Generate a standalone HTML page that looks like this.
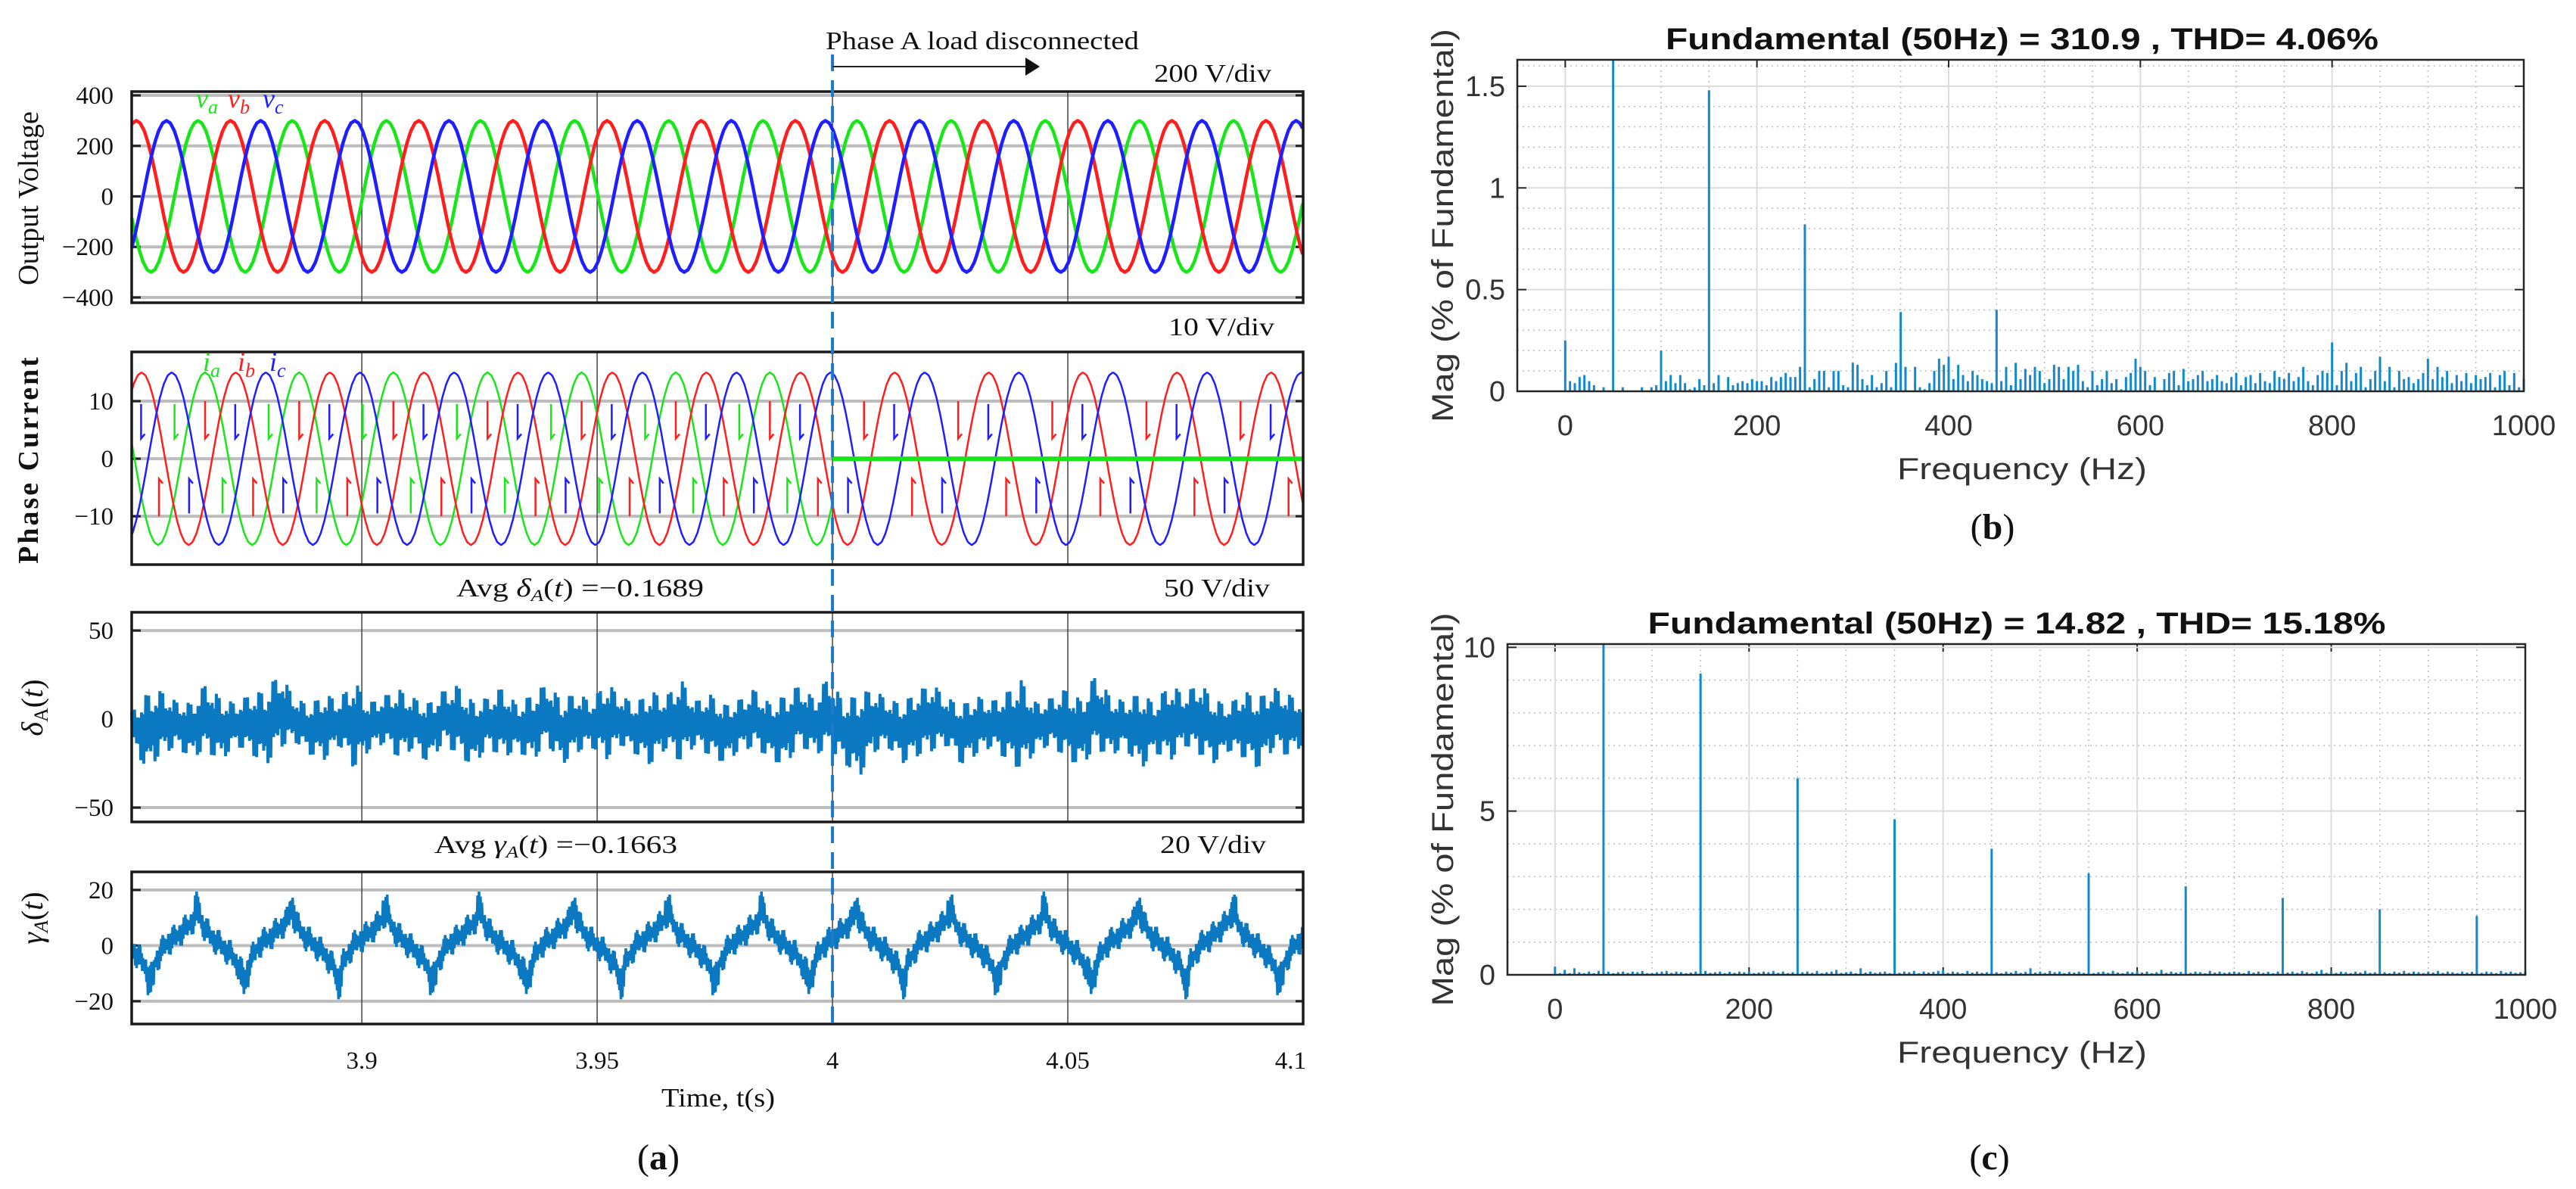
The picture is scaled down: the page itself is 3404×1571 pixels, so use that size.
<!DOCTYPE html>
<html><head><meta charset="utf-8"><style>
html,body{margin:0;padding:0;background:#fff;}
svg{display:block;}
.serif{font-family:"Liberation Serif",serif;}
.sans{font-family:"Liberation Sans",sans-serif;}
</style></head><body>
<svg id="fig" xmlns="http://www.w3.org/2000/svg" width="3404" height="1571" viewBox="0 0 3404 1571">
<rect x="0" y="0" width="3404" height="1571" fill="#fff"/>
<g id="left"></g>
<g id="specb"></g>
<g id="specc"></g>
</svg>
<script>
const timeTicks = [3.9, 3.95, 4, 4.05, 4.1];
const timeTickLabels = ["3.9", "3.95", "4", "4.05", "4.1"];
const disconnectTime = 4.0;
const voltTicks = [400, 200, 0, -200, -400];
const voltTickLabels = ["400", "200", "0", "\u2212200", "\u2212400"];
const currTicks = [10, 0, -10];
const currTickLabels = ["10", "0", "\u221210"];
const deltaTicks = [50, 0, -50];
const deltaTickLabels = ["50", "0", "\u221250"];
const gammaTicks = [20, 0, -20];
const gammaTickLabels = ["20", "0", "\u221220"];
const cosCycle = [1,0.966,0.866,0.707,0.5,0.259,0,-0.259,-0.5,-0.707,-0.866,-0.966,-1,-0.966,-0.866,-0.707,-0.5,-0.259,0,0.259,0.5,0.707,0.866,0.966,1];
const gridFreq = [50];
const voltPhaseNames = ["va", "vb", "vc"];
const voltAmp = [300, 300, 300];
const voltPeakTime = [3.8652, 3.8521, 3.8585];
const currAmp = [15, 15, 15];
const currPeakTime = [3.8667, 3.8532, 3.8596];
const currSpikeTop = [9.5, 10, 9.5];
const currHook = [3.5, 3.5, 3.5];
const deltaHi = [4,14,16,10,9,20,12,9,14,16,26,12,8,14,11,22,9,13,17,12,9,16,19,10,12,18,8,14,20,11,15,10,21,13,9,16,12,23,10,14,8,11,17,9,13,19,12,24,10,14,17,11,9,16,20,12,8,13,10,15,22,9,12,17,11,25,13,10,15,9,20,14,21,11,8,16,12,18,14,10];
const deltaLo = [-14,-29,-20,-16,-22,-18,-24,-15,-19,-27,-16,-13,-20,-23,-15,-28,-18,-14,-22,-17,-25,-14,-20,-27,-16,-22,-18,-24,-14,-26,-19,-16,-23,-15,-20,-26,-17,-24,-15,-21,-25,-18,-16,-22,-27,-15,-20,-18,-24,-34,-19,-16,-25,-21,-18,-15,-26,-20,-16,-23,-29,-18,-15,-22,-27,-17,-21,-16,-29,-19,-24,-15,-20,-25,-18,-22,-28,-17,-21,-15];
const deltaJitter = [1,0.55,0.85,0.4,0.95,0.6,0.3,0.8,0.5,1,0.45,0.7,0.35,0.9,0.6,0.75,0.4,0.65,0.5,0.85];
const gammaCycle = [-12,-6,-3,0,1.5,2.5,4,5.5,7,9,12,8,5,3,1.5,0,-1.5,-3,-5.5,-8,-12];
const gammaTroughTime = 3.8551;
const gammaJitter = [2,4,1.5,5,3,4,1.5,5,2.5,3.5,4.5,1.5,5,2.5,3,4.5];

const freqTicks = [0, 200, 400, 600, 800, 1000];
const freqTickLabels = ["0", "200", "400", "600", "800", "1000"];
const specBTicks = [0, 0.5, 1, 1.5];
const specBTickLabels = ["0", "0.5", "1", "1.5"];
const specCTicks = [0, 5, 10];
const specCTickLabels = ["0", "5", "10"];
const binStep = 5;
const specB = [
0.25,0.05,0.04,0.07,0.08,0.05,0.03,0,0.02,0,
1.63,0,0.02,0,0,0,0.02,0,0.02,0.03,
0.2,0.05,0.08,0.04,0.08,0.04,0.01,0.02,0.06,0.03,
1.48,0.04,0.08,0,0.07,0.03,0.04,0.05,0.04,0.06,
0.05,0.05,0.03,0.07,0.05,0.07,0.09,0.07,0.07,0.12,
0.82,0.02,0.06,0.1,0.1,0.02,0.1,0.1,0.03,0.02,
0.14,0.13,0.06,0.03,0.08,0.02,0.04,0.1,0.02,0.14,
0.39,0.12,0,0.12,0.02,0.01,0.04,0.1,0.16,0.13,
0.17,0.06,0.13,0.08,0.05,0.1,0.08,0.06,0.05,0.04,
0.4,0.05,0.12,0.03,0.14,0.06,0.11,0.08,0.12,0.1,
0.04,0.06,0.13,0.12,0.06,0.12,0.1,0.13,0.05,0.02,
0.1,0.03,0.06,0.1,0.04,0.06,0.01,0.07,0.09,0.16,
0.12,0.1,0.03,0.07,0,0.06,0.09,0.1,0.03,0.11,
0.05,0.06,0.08,0.1,0.05,0.06,0.08,0.05,0.04,0.07,
0.09,0.03,0.07,0.08,0.04,0.09,0.05,0.04,0.1,0.07,
0.06,0.09,0.05,0.07,0.12,0.05,0.03,0.08,0.1,0.09,
0.24,0.03,0.1,0.14,0.05,0.09,0.12,0.02,0.06,0.1,
0.17,0.05,0.12,0.02,0.1,0.06,0.07,0.04,0.06,0.09,
0.16,0.06,0.12,0.07,0.1,0.04,0.08,0.05,0.09,0.04,
0.08,0.06,0.07,0.09,0.02,0.08,0.1,0.03,0.09,0.02,
0.06];
const specC = [
0.25,0.05,0.15,0.05,0.2,0.08,0.05,0.1,0.05,0.12,
10.1,0.1,0.05,0.08,0.1,0.06,0.1,0.08,0.12,0.05,
0.05,0.08,0.1,0.12,0.06,0.1,0.08,0.05,0.07,0.1,
9.2,0.12,0.06,0.08,0.1,0.05,0.09,0.06,0.1,0.08,
0.1,0.05,0.07,0.1,0.08,0.12,0.06,0.1,0.05,0.08,
6.0,0.08,0.1,0.06,0.12,0.05,0.08,0.1,0.15,0.06,
0.08,0.1,0.05,0.2,0.07,0.1,0.06,0.08,0.1,0.05,
4.75,0.06,0.1,0.08,0.12,0.05,0.1,0.07,0.09,0.12,
0.15,0.06,0.1,0.08,0.05,0.12,0.07,0.1,0.06,0.08,
3.85,0.08,0.05,0.1,0.07,0.12,0.06,0.09,0.2,0.07,
0.1,0.06,0.12,0.08,0.1,0.05,0.09,0.07,0.1,0.06,
3.1,0.05,0.08,0.1,0.06,0.12,0.07,0.05,0.1,0.08,
0.12,0.07,0.1,0.05,0.08,0.15,0.06,0.1,0.07,0.09,
2.7,0.06,0.1,0.08,0.05,0.12,0.07,0.1,0.06,0.08,
0.1,0.08,0.05,0.12,0.07,0.1,0.06,0.09,0.05,0.1,
2.35,0.07,0.1,0.06,0.12,0.08,0.05,0.1,0.15,0.06,
0.12,0.06,0.1,0.08,0.05,0.1,0.07,0.12,0.06,0.08,
2.0,0.08,0.05,0.1,0.07,0.12,0.06,0.1,0.08,0.05,
0.1,0.07,0.12,0.06,0.1,0.08,0.05,0.1,0.07,0.09,
1.8,0.06,0.1,0.08,0.05,0.12,0.07,0.1,0.06,0.08,
0.1];
const titleB = "Fundamental (50Hz) = 310.9 , THD= 4.06%";
const titleC = "Fundamental (50Hz) = 14.82 , THD= 15.18%";

const NS = "http://www.w3.org/2000/svg";
function mk(parent, tag, attrs, text) {
  const e = document.createElementNS(NS, tag);
  for (const k in attrs) e.setAttribute(k, attrs[k]);
  if (text !== undefined) e.textContent = text;
  parent.appendChild(e);
  return e;
}
const L = document.getElementById("left");
const X0 = 174, X1 = 1722, T0 = 3.8511, T1 = 4.1;
function xT(t) { return X0 + (t - T0) / (T1 - T0) * (X1 - X0); }
function yMap(p) { return v => p.top + (p.ymax - v) / (p.ymax - p.ymin) * (p.bottom - p.top); }
function cosAt(deg) {
  let d = ((deg % 360) + 360) % 360;
  const i = Math.floor(d / 15), f = (d - i * 15) / 15;
  return cosCycle[i] * (1 - f) + cosCycle[i + 1] * f;
}
const panels = {
  v: {top:121, bottom:400, ymin:-421, ymax:415, ticks:voltTicks, labels:voltTickLabels, name:"voltage"},
  i: {top:465, bottom:746, ymin:-18.4, ymax:18.55, ticks:currTicks, labels:currTickLabels, name:"current"},
  d: {top:809, bottom:1086, ymin:-58.1, ymax:60.3, ticks:deltaTicks, labels:deltaTickLabels, name:"delta"},
  g: {top:1152, bottom:1353, ymin:-28.2, ymax:26.5, ticks:gammaTicks, labels:gammaTickLabels, name:"gamma"}
};
function drawPanelFrame(p) {
  const y = yMap(p);
  for (let k = 0; k < p.ticks.length; k++) {
    const gl = mk(L, "line", {x1:X0, x2:X1, y1:y(p.ticks[k]), y2:y(p.ticks[k]), stroke:"#bdbdbd", "stroke-width":4});
    
    
    const tk = mk(L, "line", {x1:X0, x2:X0 + 12, y1:y(p.ticks[k]), y2:y(p.ticks[k]), stroke:"#222", "stroke-width":3});
    
    
    const tk2 = mk(L, "line", {x1:X1 - 10, x2:X1, y1:y(p.ticks[k]), y2:y(p.ticks[k]), stroke:"#222", "stroke-width":3});
    
    
    const lb = mk(L, "text", {x:150, y:y(p.ticks[k]) + 11, "text-anchor":"end", "font-size":33, class:"serif", fill:"#111"}, p.labels[k]);
    
    
  }
  for (let k = 0; k < timeTicks.length - 1; k++) {
    const vg = mk(L, "line", {x1:xT(timeTicks[k]), x2:xT(timeTicks[k]), y1:p.top, y2:p.bottom, stroke:"#444", "stroke-width":1.5});
    
    
  }
}
function drawBox(p) {
  const b = mk(L, "rect", {x:X0, y:p.top, width:X1 - X0, height:p.bottom - p.top, fill:"none", stroke:"#1a1a1a", "stroke-width":3.5});
  
  
}
for (const k in panels) drawPanelFrame(panels[k]);

const vColors = ["#19e619", "#ff1e1e", "#1e1eff"];
(function(){
  const p = panels.v, y = yMap(p);
  for (let ph = 0; ph < 3; ph++) {
    let d = "";
    for (let t = T0; t <= T1 + 1e-9; t += 0.0002) {
      const deg = (t - voltPeakTime[ph]) * gridFreq[0] * 360;
      d += (d ? "L" : "M") + xT(t).toFixed(1) + "," + y(voltAmp[ph] * cosAt(deg)).toFixed(1);
    }
    const path = mk(L, "path", {d:d, fill:"none", stroke:vColors[ph], "stroke-width":4.5, "stroke-linejoin":"round"});
    
    
  }
})();

(function(){
  const p = panels.i, y = yMap(p);
  const names = ["ia", "ib", "ic"];
  for (let ph = 0; ph < 3; ph++) {
    let d = "";
    const tEnd = ph === 0 ? disconnectTime : T1;
    for (let t = T0; t <= tEnd + 1e-9; t += 0.0002) {
      const deg = (t - currPeakTime[ph]) * gridFreq[0] * 360;
      d += (d ? "L" : "M") + xT(t).toFixed(1) + "," + y(currAmp[ph] * cosAt(deg)).toFixed(1);
    }
    const path = mk(L, "path", {d:d, fill:"none", stroke:vColors[ph], "stroke-width":2.5});
    
    
    const period = 1 / gridFreq[0];
    for (let c = -2; c < 16; c++) {
      const base = currPeakTime[ph] + c * period;
      const tUp = base - period * 0.325, tDn = base + period * 0.185;
      [[tUp, 1], [tDn, -1]].forEach(([ts, s]) => {
        if (ts < T0 || ts > tEnd) return;
        const xs = xT(ts);
        const sp = mk(L, "path", {d:"M" + xs + "," + y(s * currSpikeTop[ph]) + "L" + xs + "," + y(s * currHook[ph]) + "l5," + (-s * 6), fill:"none", stroke:vColors[ph], "stroke-width":2.5});
        
        
      });
    }
  }
  const flat = mk(L, "line", {x1:xT(disconnectTime), x2:X1, y1:y(0), y2:y(0), stroke:"#19e619", "stroke-width":6});
  
  
})();

(function(){
  const p = panels.d, y = yMap(p);
  const n = deltaHi.length, span = T1 - T0;
  let d = "", k = 0;
  for (let t = T0; t <= T1 + 1e-9; t += 0.00015, k++) {
    const f = (t - T0) / span * (n - 1), i = Math.min(Math.floor(f), n - 2), r = f - i;
    const hi = deltaHi[i] * (1 - r) + deltaHi[i + 1] * r;
    const lo = deltaLo[i] * (1 - r) + deltaLo[i + 1] * r;
    const mid = (hi + lo) / 2, half = (hi - lo) / 2;
    const v = k % 2 === 0 ? mid + half * deltaJitter[k % deltaJitter.length] : mid - half * deltaJitter[(k + 7) % deltaJitter.length];
    d += (d ? "L" : "M") + xT(t).toFixed(1) + "," + y(v).toFixed(1);
  }
  const path = mk(L, "path", {d:d, fill:"none", stroke:"#0b78c2", "stroke-width":4});
  
  
})();

(function(){
  const p = panels.g, y = yMap(p);
  const period = 1 / gridFreq[0];
  let d = "", k = 0;
  for (let t = T0; t <= T1 + 1e-9; t += 0.00015, k++) {
    let ph = ((t - gammaTroughTime) / period) % 1; if (ph < 0) ph += 1;
    const f = ph * (gammaCycle.length - 1), i = Math.floor(f), r = f - i;
    const c = gammaCycle[i] * (1 - r) + gammaCycle[Math.min(i + 1, gammaCycle.length - 1)] * r;
    const cusp = (ph < 0.04 || ph > 0.96) ? -3 : (ph > 0.47 && ph < 0.53 ? 3 : 0);
    const v = k % 2 === 0 ? c + gammaJitter[k % gammaJitter.length] + Math.max(cusp, 0) : c - gammaJitter[(k + 5) % gammaJitter.length] + Math.min(cusp, 0);
    d += (d ? "L" : "M") + xT(t).toFixed(1) + "," + y(v).toFixed(1);
  }
  const path = mk(L, "path", {d:d, fill:"none", stroke:"#0b78c2", "stroke-width":3.5});
  
  
})();

for (const k in panels) drawBox(panels[k]);

(function(){
  const dl = mk(L, "line", {x1:xT(disconnectTime), x2:xT(disconnectTime), y1:72, y2:1353, stroke:"#1f78c8", "stroke-width":4, "stroke-dasharray":"22,12"});
  
  
  const ar = mk(L, "line", {x1:xT(disconnectTime), x2:1355, y1:88, y2:88, stroke:"#222", "stroke-width":2});
  
  
  const ah = mk(L, "polygon", {points:"1355,76 1374,88 1355,100", fill:"#111"});
  
  
})();

for (let k = 0; k < timeTicks.length; k++) {
  const anchor = k === timeTicks.length - 1 ? "end" : "middle";
  const tx = k === timeTicks.length - 1 ? xT(timeTicks[k]) + 4 : xT(timeTicks[k]);
  const lb = mk(L, "text", {x:tx, y:1412, "text-anchor":anchor, "font-size":33, class:"serif", fill:"#111"}, timeTickLabels[k]);
  
  
}

function drawSpectrum(G, cfg) {
  const xF = f => cfg.x0 + (f - cfg.fmin) / (cfg.fmax - cfg.fmin) * (cfg.x1 - cfg.x0);
  const yV = v => cfg.bottom - v / cfg.ymax * (cfg.bottom - cfg.top);
  for (let f = 0; f <= 1000; f += 50) {
    if (f % 200 === 0) continue;
    const m = mk(G, "line", {x1:xF(f), x2:xF(f), y1:cfg.top, y2:cfg.bottom, stroke:"#bdbdbd", "stroke-width":1.5, "stroke-dasharray":"2,5"});
    
    
  }
  for (let v = cfg.minor; v < cfg.ymax; v += cfg.minor) {
    const m = mk(G, "line", {x1:cfg.x0, x2:cfg.x1, y1:yV(v), y2:yV(v), stroke:"#bdbdbd", "stroke-width":1.5, "stroke-dasharray":"2,5"});
    
    
  }
  for (let k = 0; k < freqTicks.length; k++) {
    const g = mk(G, "line", {x1:xF(freqTicks[k]), x2:xF(freqTicks[k]), y1:cfg.top, y2:cfg.bottom, stroke:"#dcdcdc", "stroke-width":2});
    
    
    const t1 = mk(G, "line", {x1:xF(freqTicks[k]), x2:xF(freqTicks[k]), y1:cfg.bottom, y2:cfg.bottom - 10, stroke:"#262626", "stroke-width":2});
    
    
    const t2 = mk(G, "line", {x1:xF(freqTicks[k]), x2:xF(freqTicks[k]), y1:cfg.top, y2:cfg.top + 10, stroke:"#262626", "stroke-width":2});
    
    
    const lb = mk(G, "text", {x:xF(freqTicks[k]), y:cfg.bottom + 58, "text-anchor":"middle", "font-size":38, class:"sans", fill:"#333"}, freqTickLabels[k]);
    
    
  }
  for (let k = 0; k < cfg.ticks.length; k++) {
    const yy = yV(cfg.ticks[k]);
    const g = mk(G, "line", {x1:cfg.x0, x2:cfg.x1, y1:yy, y2:yy, stroke:"#dcdcdc", "stroke-width":2});
    
    
    const t1 = mk(G, "line", {x1:cfg.x0, x2:cfg.x0 + 12, y1:yy, y2:yy, stroke:"#262626", "stroke-width":2});
    
    
    const t2 = mk(G, "line", {x1:cfg.x1 - 12, x2:cfg.x1, y1:yy, y2:yy, stroke:"#262626", "stroke-width":2});
    
    
    const lb = mk(G, "text", {x:cfg.x0 - 16, y:yy + 13, "text-anchor":"end", "font-size":38, class:"sans", fill:"#333"}, cfg.labels[k]);
    
    
  }
  for (let k = 0; k < cfg.values.length; k++) {
    const v = Math.min(cfg.values[k], cfg.ymax);
    if (v <= 0) continue;
    const f = k * binStep;
    const b = mk(G, "line", {x1:xF(f), x2:xF(f), y1:cfg.bottom, y2:yV(v), stroke:"#1289cc", "stroke-width":3});
    
    
  }
  const box = mk(G, "rect", {x:cfg.x0, y:cfg.top, width:cfg.x1 - cfg.x0, height:cfg.bottom - cfg.top, fill:"none", stroke:"#262626", "stroke-width":2.5});
  
  
  const tt = mk(G, "text", {x:cfg.titleX, y:cfg.top - 14, "text-anchor":"middle", "font-size":40, "font-weight":"bold", class:"sans", fill:"#111", textLength:cfg.titleW, lengthAdjust:"spacingAndGlyphs"}, cfg.title);
  
  
  const xl = mk(G, "text", {x:2672, y:cfg.bottom + 116, "text-anchor":"middle", "font-size":40, class:"sans", fill:"#333", textLength:330, lengthAdjust:"spacingAndGlyphs"}, "Frequency (Hz)");
  
  
  const yl = mk(G, "text", {x:0, y:0, transform:"translate(1920," + ((cfg.top + cfg.bottom) / 2) + ") rotate(-90)", "text-anchor":"middle", "font-size":40, class:"sans", fill:"#333", textLength:520, lengthAdjust:"spacingAndGlyphs"}, "Mag (% of Fundamental)");
  
  
}
drawSpectrum(document.getElementById("specb"), {name:"spectrum-b", x0:2005, x1:3335, top:79, bottom:517, fmin:-50, fmax:1000, ymax:1.63, minor:0.1, ticks:specBTicks, labels:specBTickLabels, values:specB, title:titleB, titleX:2672, titleW:942});
drawSpectrum(document.getElementById("specc"), {name:"spectrum-c", x0:1992, x1:3337, top:851, bottom:1288, fmin:-49, fmax:1000, ymax:10.1, minor:1, ticks:specCTicks, labels:specCTickLabels, values:specC, title:titleC, titleX:2665, titleW:975});
</script>
<svg style="position:absolute;left:0;top:0" width="3404" height="1571" viewBox="0 0 3404 1571">
<g class="serif" fill="#111">
<text x="1091" y="65" font-size="34" textLength="414" lengthAdjust="spacingAndGlyphs">Phase A load disconnected</text>
<text x="1525" y="108" font-size="34" textLength="155" lengthAdjust="spacingAndGlyphs">200 V/div</text>
<text x="1544" y="443" font-size="34" textLength="140" lengthAdjust="spacingAndGlyphs">10 V/div</text>
<text x="1538" y="788" font-size="34" textLength="140" lengthAdjust="spacingAndGlyphs">50 V/div</text>
<text x="1533" y="1127" font-size="34" textLength="140" lengthAdjust="spacingAndGlyphs">20 V/div</text>
<text x="603" y="788" font-size="34" textLength="327" lengthAdjust="spacingAndGlyphs">Avg <tspan font-style="italic">δ</tspan><tspan font-style="italic" font-size="22" dy="6">A</tspan><tspan dy="-6">(</tspan><tspan font-style="italic">t</tspan>) =−0.1689</text>
<text x="574" y="1127" font-size="34" textLength="321" lengthAdjust="spacingAndGlyphs">Avg <tspan font-style="italic">γ</tspan><tspan font-style="italic" font-size="22" dy="6">A</tspan><tspan dy="-6">(</tspan><tspan font-style="italic">t</tspan>) =−0.1663</text>
<text x="874" y="1462" font-size="35" textLength="150" lengthAdjust="spacingAndGlyphs">Time, t(s)</text>
<text x="870" y="1545" font-size="48" text-anchor="middle">(<tspan font-weight="bold">a</tspan>)</text>
<text transform="translate(50,262) rotate(-90)" text-anchor="middle" font-size="38">Output Voltage</text>
<text transform="translate(50,607) rotate(-90)" text-anchor="middle" font-size="38" letter-spacing="3" font-weight="bold">Phase Current</text>
<text transform="translate(56,935) rotate(-90)" text-anchor="middle" font-size="40"><tspan font-style="italic">δ</tspan><tspan font-size="26" dy="7">A</tspan><tspan dy="-7">(</tspan><tspan font-style="italic">t</tspan>)</text>
<text transform="translate(56,1213) rotate(-90)" text-anchor="middle" font-size="40"><tspan font-style="italic">γ</tspan><tspan font-style="italic" font-size="26" dy="7">A</tspan><tspan dy="-7">(</tspan><tspan font-style="italic">t</tspan>)</text>
<text x="259" y="142" font-size="36" font-style="italic" fill="#19e619">v<tspan font-size="26" dy="8">a</tspan></text>
<text x="301" y="142" font-size="36" font-style="italic" fill="#ff1e1e">v<tspan font-size="26" dy="8">b</tspan></text>
<text x="347" y="142" font-size="36" font-style="italic" fill="#1e1eff">v<tspan font-size="26" dy="8">c</tspan></text>
<text x="268" y="490" font-size="36" font-style="italic" fill="#19e619">i<tspan font-size="26" dy="8">a</tspan></text>
<text x="314" y="490" font-size="36" font-style="italic" fill="#ff1e1e">i<tspan font-size="26" dy="8">b</tspan></text>
<text x="356" y="490" font-size="36" font-style="italic" fill="#1e1eff">i<tspan font-size="26" dy="8">c</tspan></text>
<text x="2633" y="712" font-size="48" text-anchor="middle">(<tspan font-weight="bold">b</tspan>)</text>
<text x="2629" y="1545" font-size="48" text-anchor="middle">(<tspan font-weight="bold">c</tspan>)</text>
</g>
</svg>
</body></html>
